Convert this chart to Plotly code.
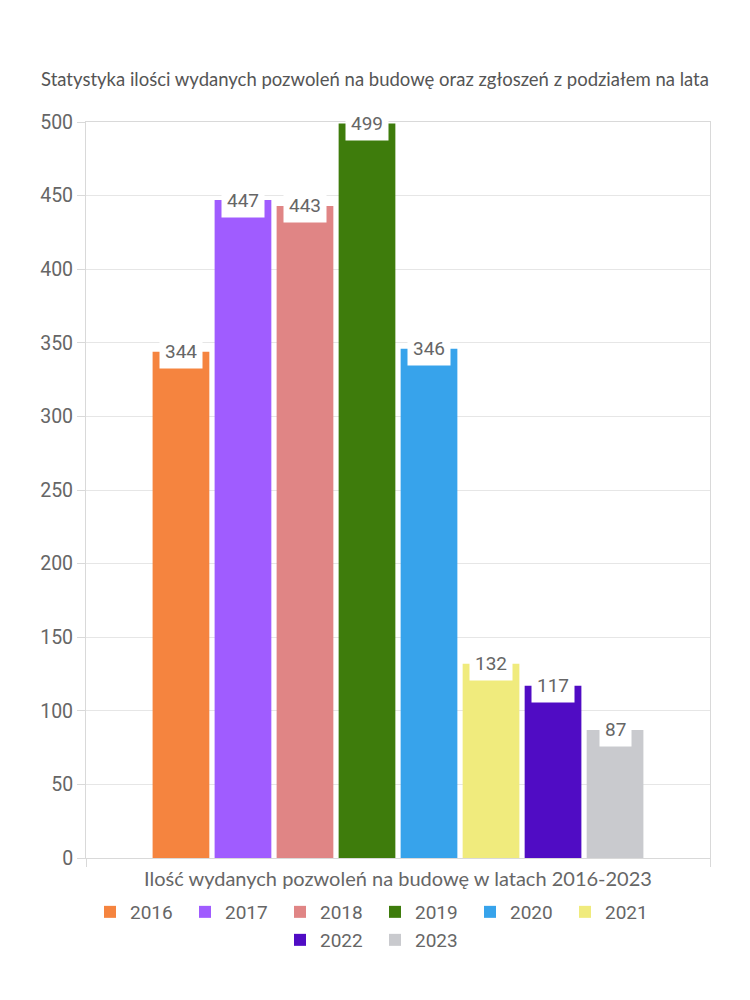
import plotly.graph_objects as go

years = ["2016", "2017", "2018", "2019", "2020", "2021", "2022", "2023"]
values = [344, 447, 443, 499, 346, 132, 117, 87]
colors = ["#F5843F", "#A05CFF", "#E08585", "#3E7C0C", "#37A3EB", "#F0EB7D", "#500CC4", "#C9CACE"]
legend_rows = ["legend", "legend", "legend", "legend", "legend", "legend", "legend2", "legend2"]
category = ["Ilość"]
y_ticks = [0, 50, 100, 150, 200, 250, 300, 350, 400, 450, 500]

title_text = "Statystyka ilości wydanych pozwoleń na budowę oraz zgłoszeń z podziałem na lata"
x_title = "Ilość wydanych pozwoleń na budowę w latach 2016-2023"

BARGAP = 0.205
GROUPGAP = 0.085
W, H = 742, 992
ML, MR, MT, MB = 78, 40, 114, 142
plot_w = W - ML - MR
plot_h = H - MT - MB

fig = go.Figure()
for yr, v, c, lg in zip(years, values, colors, legend_rows):
    fig.add_trace(go.Bar(x=category, y=[v], name=yr, legend=lg,
                         marker=dict(color=c, line=dict(width=0)), hoverinfo="name+y"))

n = len(years)
slot = (1 - BARGAP) / n
for i, v in enumerate(values):
    xc = -(1 - BARGAP) / 2 + (i + 0.5) * slot
    fig.add_annotation(x=xc, y=v, xref="x", yref="y", text=str(v), showarrow=False,
                       yanchor="middle", bgcolor="white", borderpad=5,
                       font=dict(family="Roboto", size=19, color="#666666"))

legend_x = (367 - ML) / plot_w
legend_common = dict(orientation="h", x=legend_x, xanchor="center", yanchor="top",
                     font=dict(family="Roboto", size=19, color="#666666"),
                     entrywidth=50, entrywidthmode="pixels", traceorder="normal",
                     itemclick=False, itemdoubleclick=False, bgcolor="rgba(0,0,0,0)")

fig.update_layout(
    width=W, height=H,
    paper_bgcolor="white", plot_bgcolor="white",
    margin=dict(l=ML, r=MR, t=MT, b=MB),
    barmode="group", bargap=BARGAP, bargroupgap=GROUPGAP,
    title=dict(text=title_text, x=367 / W, xref="container", xanchor="center",
               y=1 - 72 / H, yref="container", yanchor="middle",
               font=dict(family="Lato", size=18.5, color="#555555")),
    showlegend=True,
    legend=dict(y=-(35 / plot_h), **legend_common),
    legend2=dict(y=-(63 / plot_h), **legend_common),
    xaxis=dict(type="category", range=[-0.5, 0.5], showticklabels=False,
               tickson="boundaries", ticks="outside", ticklen=8, tickcolor="#D9D9D9",
               showline=True, linecolor="#D9D9D9", mirror=True, showgrid=False,
               title=dict(text=x_title, standoff=13,
                          font=dict(family="Lato", size=20, color="#666666"))),
    yaxis=dict(range=[0, 500], tickvals=y_ticks, ticks="outside", ticklen=8,
               tickcolor="#D9D9D9", showline=True, linecolor="#D9D9D9", mirror=True,
               gridcolor="#E6E6E6", zeroline=False,
               tickfont=dict(family="Roboto", size=19.5, color="#666666")),
)

fig.write_html("out.html")
